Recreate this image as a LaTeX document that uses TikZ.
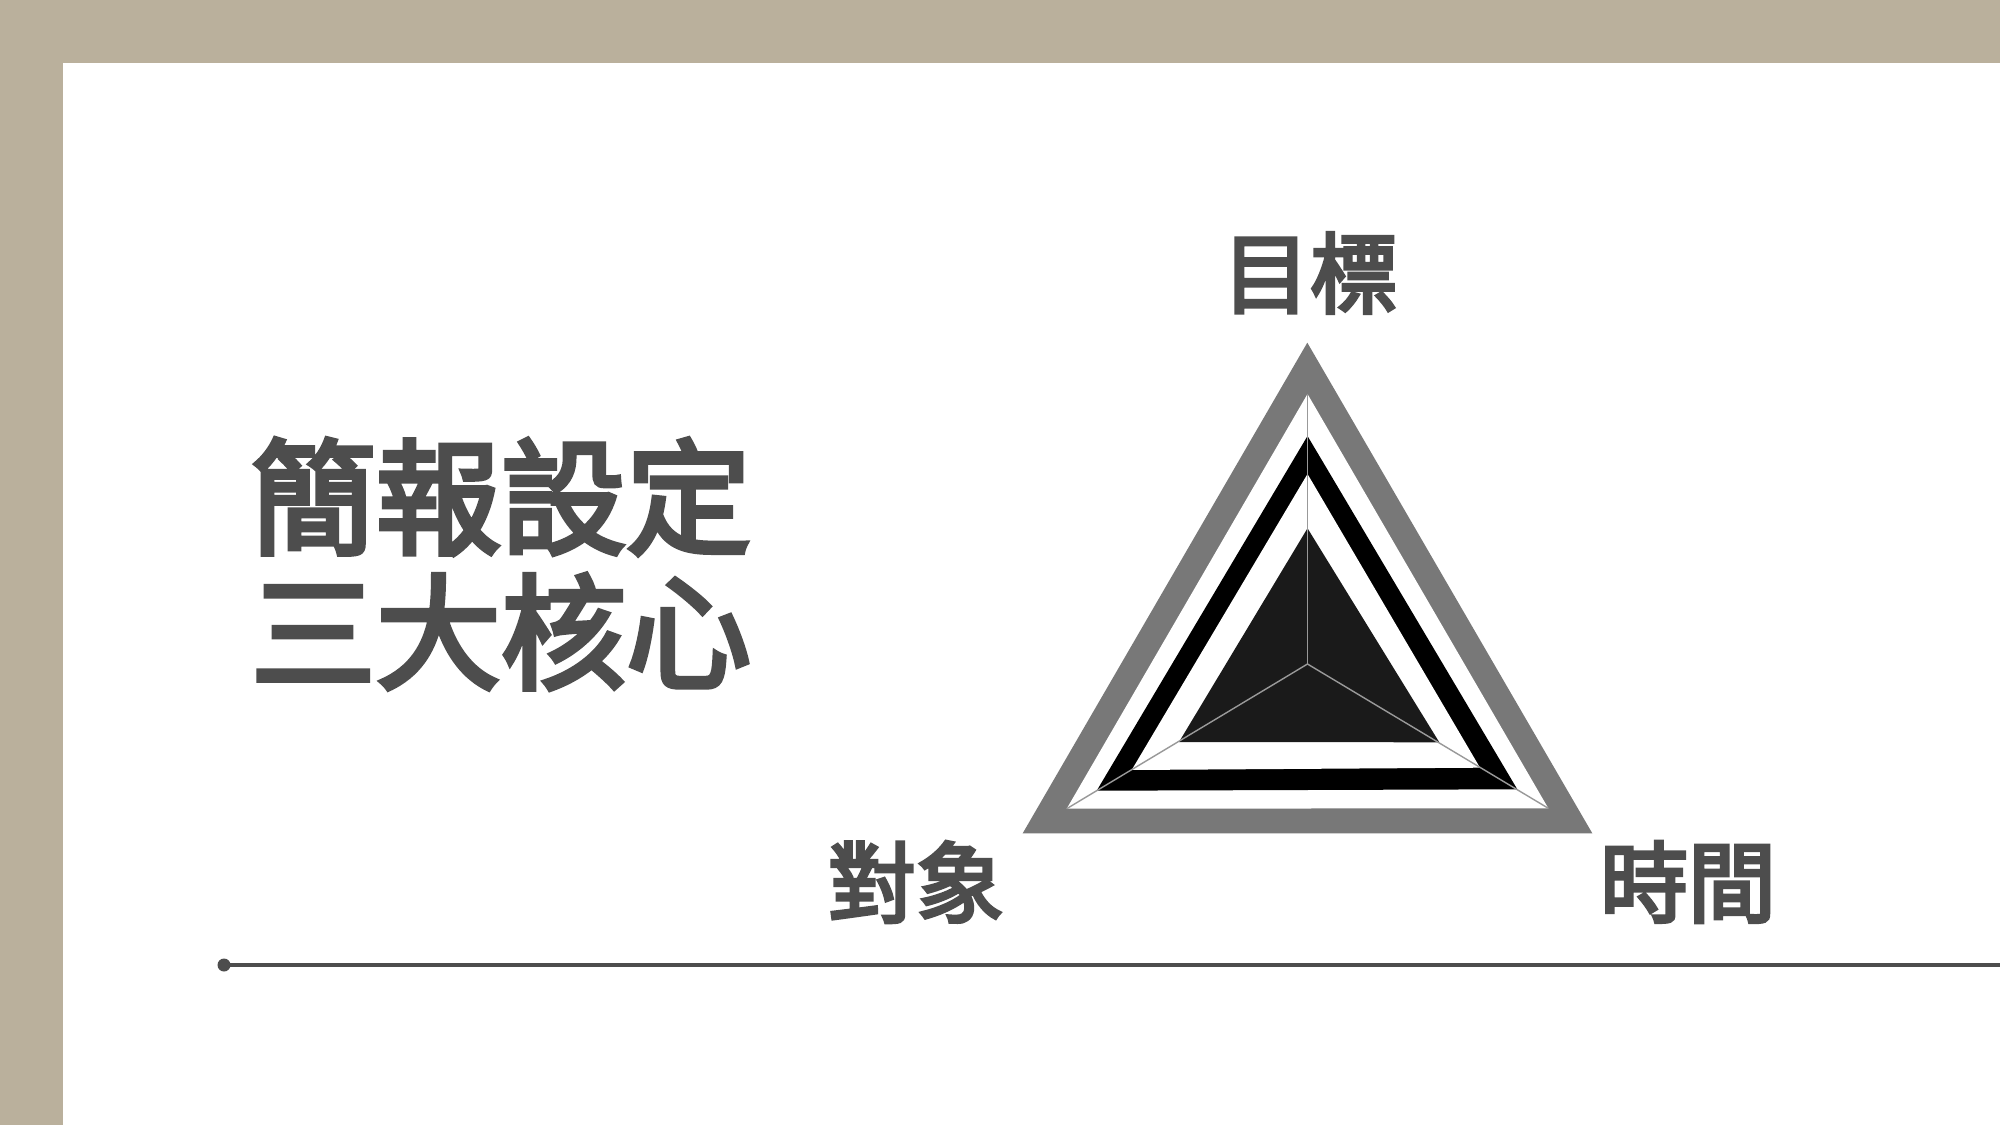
\documentclass[tikz,border=0pt]{standalone}
\usepackage{fontspec}
\usepackage{tikz}
\newfontfamily\cjk[FakeBold=4]{Noto Sans CJK TC}
\definecolor{framebeige}{HTML}{BAB09C}
\definecolor{textgray}{HTML}{4D4D4D}
\definecolor{bandgray}{HTML}{787878}
\definecolor{coregray}{HTML}{1A1A1A}

\begin{document}
\begin{tikzpicture}[
	cornername/.style={font=\cjk\fontsize{25}{30}\selectfont, text=textgray, inner sep=0pt},
	titletext/.style={font=\cjk\fontsize{35.6}{38.4}\selectfont, text=textgray, inner sep=0pt, align=left},
	axisline/.style={draw=black!40, line width=0.4pt}]
	\useasboundingbox (0,0) rectangle (20,11.25);
	% frame
	\fill[framebeige] (0,0) rectangle (20,11.25);
	\fill[white] (0.63,0) rectangle (20,10.62);

	% title
	\node[titletext, anchor=west] (title) at (2.50,5.61) {簡報設定\\三大核心};

	% rule
	\fill[textgray] (2.24,1.60) circle [radius=0.065];
	\coordinate (ruleend) at (20,1.60);
	\draw[textgray, line width=0.9pt] (2.24,1.60) -- (ruleend);

	% triangle
	\coordinate (core) at (13.075,4.61);
	\coordinate (top) at (13.075,7.31);
	\coordinate (left) at (10.667,3.163);
	\coordinate (right) at (15.483,3.167);
	\fill[bandgray] (13.073,7.823) -- (10.227,2.917) -- (15.923,2.917) -- cycle;
	\fill[white] (top) -- (left) -- (right) -- cycle;
	\fill[black] (13.075,6.89) -- (10.967,3.343) -- (15.173,3.357) -- cycle;
	\fill[white] (13.075,6.51) -- (11.317,3.55) -- (14.80,3.573) -- cycle;
	\fill[coregray] (13.075,5.967) -- (11.79,3.83) -- (14.393,3.827) -- cycle;
	\draw[axisline] (core) -- (top);
	\draw[axisline] (core) -- (left);
	\draw[axisline] (core) -- (right);

	% label
	\node[cornername] (goal) at (13.10,8.52) {目標};
	\node[cornername] (audience) at (9.16,2.43) {對象};
	\node[cornername] (time) at (16.88,2.43) {時間};
\end{tikzpicture}
\end{document}
